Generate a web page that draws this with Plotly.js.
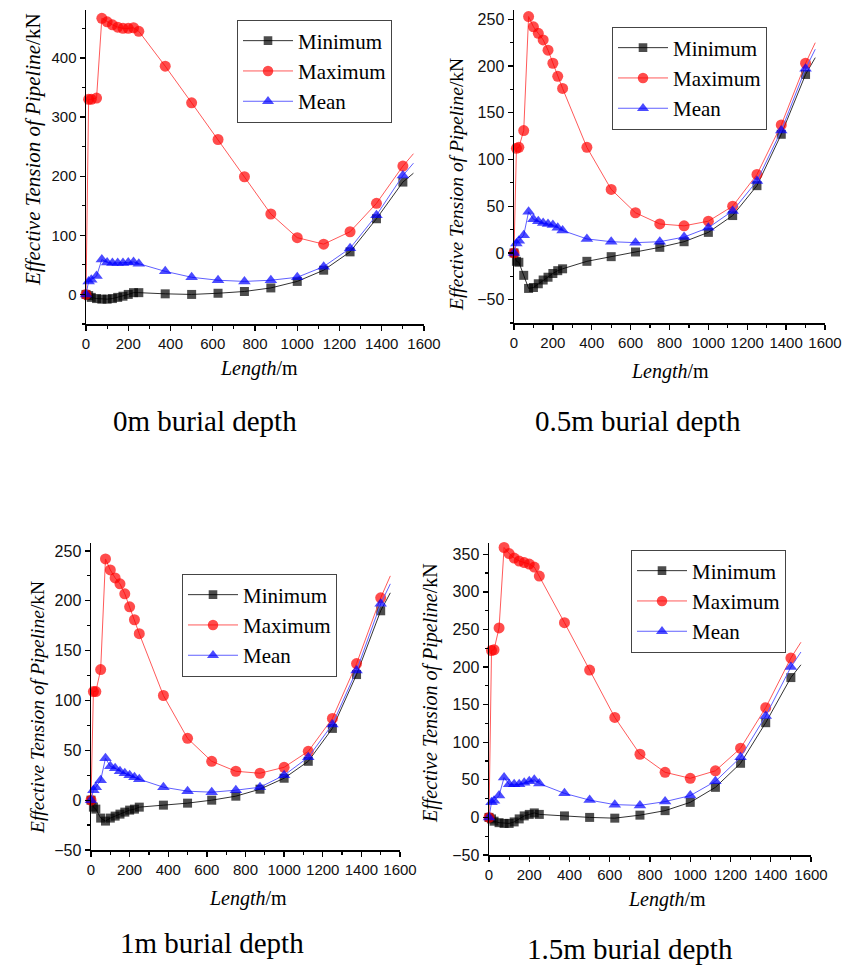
<!DOCTYPE html>
<html>
<head>
<meta charset="utf-8">
<script src="https://cdn.plot.ly/plotly-3.0.1.min.js"></script>
<style>html,body{margin:0;padding:0;background:#fff;}#chart{width:845px;height:974px;}</style>
</head>
<body>
<div id="chart"></div>
<script>
// Length along pipeline (m)
const lengthM = [0,12.5,25,50,75,100,125,150,175,200,225,250,375,500,625,750,875,1000,1125,1250,1375,1500,1550];

// 0 m burial depth
const d0_min  = [0,-2,-5,-7,-8,-8,-7,-5,-3,0,3,3,1,0,2,5,11,22,41,72,128,190,205];
const d0_max  = [0,330,330,332,467,461,456,452,450,450,451,445,386,324,262,199,136,96,85,106,154,217,238];
const d0_mean = [0,22,25,31,59,54,53,53,53,54,55,52,39,29,24,22,24,29,47,78,134,201,222];

// 0.5 m burial depth
const d05_min  = [0,-9,-10,-24,-38,-37,-33,-29,-26,-22,-19,-17,-9,-4,1,6,12,22,40,72,127,191,209];
const d05_max  = [0,112,113,131,253,242,235,228,217,203,189,176,113,68,43,31,29,34,50,84,137,203,225];
const d05_mean = [0,10,13,19,44,36,34,32,31,30,27,24,15,12,11,12,17,27,45,77,131,197,218];

// 1 m burial depth
const d1_min  = [0,-7,-9,-18,-21,-18,-16,-14,-12,-10,-9,-7,-5,-3,0,4,11,22,39,72,126,190,208];
const d1_max  = [0,109,109,131,242,231,223,217,207,194,181,167,105,62,39,29,27,33,49,82,137,203,225];
const d1_mean = [0,10,13,20,42,34,32,29,27,25,23,21,13,9,8,10,13,25,43,76,130,197,217];

// 1.5 m burial depth
const d15_min  = [0,-2,-5,-7,-8,-8,-6,-2,2,4,6,4,2,0,-1,3,9,20,40,72,126,186,203];
const d15_max  = [0,222,223,252,359,351,345,341,339,337,333,321,259,196,133,84,60,52,62,92,146,212,233];
const d15_mean = [0,20,22,29,53,44,44,44,46,48,50,45,32,23,17,16,21,29,48,80,135,200,220];

const seriesNames = ["Minimum","Maximum","Mean"];
const captions = ["0m burial depth","0.5m burial depth","1m burial depth","1.5m burial depth"];
const yTickStep = [100,50,50,50];
const yRanges = [[-50,481],[-75,260],[-50,258],[-50,365]];
const xRange = [0,1600];

const panels = [
  [d0_min,d0_max,d0_mean],
  [d05_min,d05_max,d05_mean],
  [d1_min,d1_max,d1_mean],
  [d15_min,d15_max,d15_mean]
];

const W = 845, H = 974;
const px = v => v / W;
const py = v => 1 - v / H;

// panel boxes in pixels: [left, right, top, bottom]
const boxes = [[86,424,10,324],[514,825,10,323],[91,400,543,850],[489,811,543,855]];
const legendPos = [[237,71],[612,78],[182,625],[631,601]];
const yTitlePos = [[33,150,21],[456,185,19.5],[37,708,19.5],[430,693,20]];
const xTitlePos = [[259,368],[670,371],[248,898],[667,899]];
const captionPos = [[205,421],[638,421],[212,943],[630,949]];
const yTickFont = [15,16,16,16];

const styles = [
  {marker:{symbol:'square',color:'#000000',line:{width:0}}, line:{color:'#333333',width:1}, size:9},
  {marker:{symbol:'circle',color:'#ff0000',line:{width:0}}, line:{color:'#ff5a5a',width:1}, size:11},
  {marker:{symbol:'triangle-up',color:'#0000ff',line:{width:0}}, line:{color:'#6060ff',width:1}, size:11}
];

const traces = [];
const layout = {
  width: W, height: H,
  margin: {l:0,r:0,t:0,b:0},
  paper_bgcolor: '#ffffff', plot_bgcolor: '#ffffff',
  showlegend: true,
  annotations: []
};

panels.forEach((pd, p) => {
  const sfx = p === 0 ? '' : String(p + 1);
  const legName = 'legend' + sfx;
  pd.forEach((vals, s) => {
    const st = styles[s];
    const sizes = lengthM.map((v, i) => i === lengthM.length - 1 ? 0 : st.size);
    traces.push({
      type: 'scatter', mode: 'lines+markers',
      x: lengthM, y: vals, name: seriesNames[s],
      xaxis: 'x' + sfx, yaxis: 'y' + sfx,
      legend: legName,
      line: st.line,
      marker: Object.assign({}, st.marker, {size: sizes}),
      cliponaxis: false
    });
  });
  const b = boxes[p];
  const axCommon = {
    showline: true, linecolor: '#000', linewidth: 1.5,
    ticks: 'outside', ticklen: 5, tickwidth: 1.3, tickcolor: '#000',
    showgrid: false, zeroline: false, mirror: false,
    tickfont: {family: 'Liberation Sans, Arial, sans-serif', size: 15, color: '#111'}
  };
  layout['xaxis' + sfx] = Object.assign({}, axCommon, {
    domain: [px(b[0]), px(b[1])],
    anchor: 'y' + sfx,
    range: xRange, tick0: 0, dtick: 200,
    minor: {ticks: 'outside', ticklen: 3, tickwidth: 1.2, tickcolor: '#000', dtick: 100}
  });
  layout['yaxis' + sfx] = Object.assign({}, axCommon, {
    domain: [py(b[3]), py(b[2])],
    anchor: 'x' + sfx,
    range: yRanges[p], tick0: 0, dtick: yTickStep[p],
    tickfont: {family: 'Liberation Sans, Arial, sans-serif', size: yTickFont[p], color: '#111'},
    minor: {ticks: 'outside', ticklen: 3, tickwidth: 1.2, tickcolor: '#000', dtick: yTickStep[p] / 2}
  });
  layout[legName] = {
    x: px(legendPos[p][0]), y: py(legendPos[p][1]),
    xanchor: 'left', yanchor: 'middle',
    xref: 'paper', yref: 'paper',
    bgcolor: '#ffffff', bordercolor: '#444', borderwidth: 1,
    font: {family: 'Liberation Serif, Times New Roman, serif', size: 21, color: '#000'},
    tracegroupgap: 0, itemwidth: 50
  };
  layout.annotations.push({
    xref: 'paper', yref: 'paper', x: px(yTitlePos[p][0]), y: py(yTitlePos[p][1]),
    xanchor: 'center', yanchor: 'middle', textangle: -90, showarrow: false,
    text: '<i>Effective Tension of Pipeline</i>/kN',
    font: {family: 'Liberation Serif, Times New Roman, serif', size: yTitlePos[p][2], color: '#000'}
  });
  layout.annotations.push({
    xref: 'paper', yref: 'paper', x: px(xTitlePos[p][0]), y: py(xTitlePos[p][1]),
    xanchor: 'center', yanchor: 'middle', showarrow: false,
    text: '<i>Length</i>/m',
    font: {family: 'Liberation Serif, Times New Roman, serif', size: 20, color: '#000'}
  });
  layout.annotations.push({
    xref: 'paper', yref: 'paper', x: px(captionPos[p][0]), y: py(captionPos[p][1]),
    xanchor: 'center', yanchor: 'middle', showarrow: false,
    text: captions[p],
    font: {family: 'Liberation Serif, Times New Roman, serif', size: 29, color: '#000'}
  });
});

Plotly.newPlot('chart', traces, layout, {staticPlot: true, displayModeBar: false});
</script>
</body>
</html>
